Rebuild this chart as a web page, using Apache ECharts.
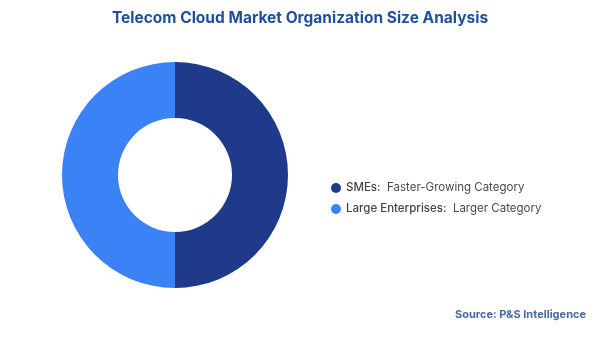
<!DOCTYPE html>
<html><head><meta charset="utf-8">
<script src="https://cdn.jsdelivr.net/npm/echarts@6/dist/echarts.min.js"></script>
<style>html,body{margin:0;padding:0;background:#fff}#c{width:600px;height:337px}</style>
</head><body><div id="c"></div>
<script>
var categories = ["SMEs", "Large Enterprises"];
var descriptions = ["Faster-Growing Category", "Larger Category"];
var values = [50, 50];
var colors = ["#1f3a8a", "#3b82f6"];

var chart = echarts.init(document.getElementById('c'));
chart.setOption({
  animation: false,
  title: [{
    text: "Telecom Cloud Market Organization Size Analysis",
    left: 'center', top: 5,
    textStyle: {fontFamily: 'Inter', fontSize: 15.5, fontWeight: 'bold', color: '#1e4f9c'}
  }, {
    text: "Source: P&S Intelligence",
    right: 9, top: 304,
    textStyle: {fontFamily: 'Inter', fontSize: 11, fontWeight: 'bold', color: '#4a68a3'}
  }],
  legend: {
    orient: 'vertical', left: 326, top: 177,
    icon: 'circle', itemWidth: 10, itemHeight: 10, itemGap: 9,
    data: categories,
    formatter: function (name) {
      var i = categories.indexOf(name);
      return '{b|' + name + ':}  ' + descriptions[i];
    },
    textStyle: {fontFamily: 'Inter', fontSize: 11.5, color: '#4a4a4a',
      rich: {b: {fontFamily: 'Inter', fontSize: 11.5, color: '#444', fontWeight: 500}}}
  },
  series: [{
    type: 'pie',
    center: [175, 175],
    radius: [57, 113],
    startAngle: 90,
    clockwise: true,
    label: {show: false},
    labelLine: {show: false},
    itemStyle: {borderWidth: 0},
    data: categories.map(function (c, i) {
      return {name: c, value: values[i], itemStyle: {color: colors[i]}};
    })
  }]
});
</script></body></html>
